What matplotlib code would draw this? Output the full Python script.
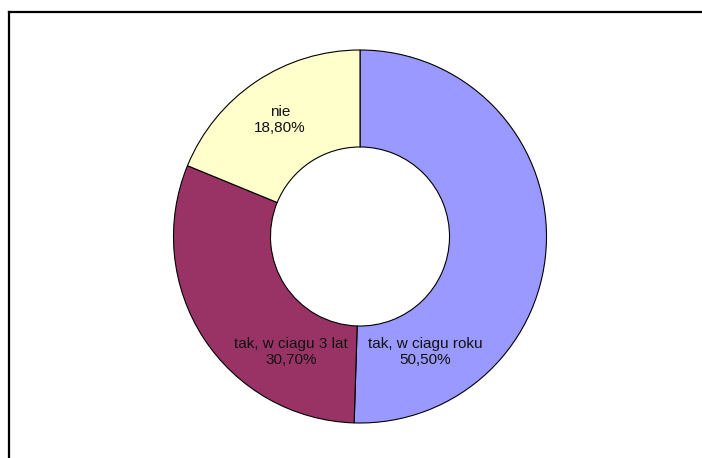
import matplotlib.pyplot as plt
from matplotlib.lines import Line2D

labels = ['tak, w ciagu roku', 'tak, w ciagu 3 lat', 'nie']
values = [50.5, 30.7, 18.8]
colors = ['#9999FF', '#993366', '#FFFFCC']

# label anchor points (pie units, centre = 0,0)
label_pos = [(0.349, -0.619), (-0.370, -0.619), (-0.429, 0.625)]

plt.rcParams['font.family'] = ['Liberation Sans', 'DejaVu Sans']

fig = plt.figure(figsize=(7.02, 4.58), dpi=100, facecolor='white')

# chart frame: only top and left edges are visible, the rest runs off the image
fx, fy = 9 / 702, 1 - 12 / 458
fig.lines.append(Line2D([fx, 1.05], [fy, fy], transform=fig.transFigure,
                        color='black', linewidth=1.6))
fig.lines.append(Line2D([fx, fx], [fy, -0.05], transform=fig.transFigure,
                        color='black', linewidth=1.6))

ax = fig.add_axes([160 / 702, 21.5 / 458, 400 / 702, 400 / 458])
ax.set_aspect('equal')
ax.axis('off')

wedges, _ = ax.pie(values, colors=colors, startangle=90, counterclock=False,
                   radius=1.0,
                   wedgeprops=dict(width=0.52, edgecolor='black', linewidth=0.8))

for lab, val, (x, y) in zip(labels, values, label_pos):
    ax.text(x, y, f'{lab}\n{val:.2f}%'.replace('.', ','), ha='center',
            va='center', fontsize=11, color='#111111', linespacing=1.25)

lim = 200 / 186.5
ax.set_xlim(-lim, lim)
ax.set_ylim(-lim, lim)

plt.savefig('out.png', dpi=100, facecolor='white')
plt.close()
